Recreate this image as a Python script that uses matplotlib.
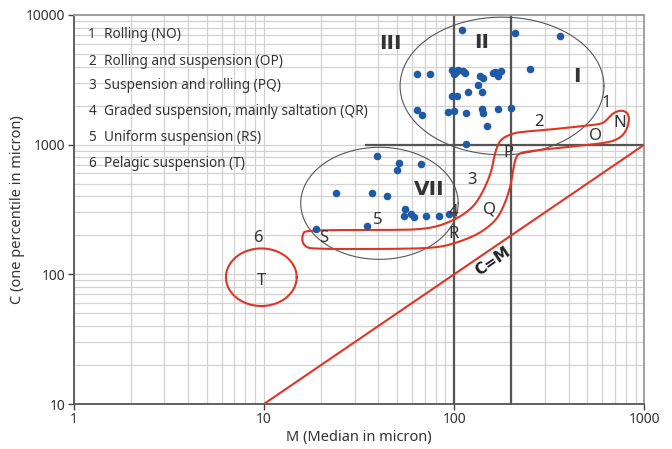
import numpy as np
import matplotlib
matplotlib.use("Agg")
import matplotlib.pyplot as plt
from matplotlib.ticker import FixedLocator, FuncFormatter, NullFormatter, LogLocator
from matplotlib.patches import Rectangle

# ---------------- data ----------------
upper_M = [110, 210, 360, 64, 75, 98, 102, 100, 105, 112, 114, 137, 142, 160, 164, 170,
           176, 250, 134, 141, 119, 98, 104, 64, 68, 93, 100, 115, 140, 142, 170, 198, 149, 116]
upper_C = [7600, 7200, 6900, 3500, 3500, 3770, 3650, 3500, 3770, 3700, 3550, 3390, 3250, 3550,
           3650, 3390, 3720, 3830, 2870, 2560, 2550, 2390, 2390, 1860, 1690, 1780, 1830, 1760,
           1880, 1760, 1870, 1930, 1400, 1010]

lower_M = [39.5, 51.5, 50, 67, 24, 37, 44.6, 55.4, 54.5, 59, 61.5, 71.4, 83.3, 94.4, 34.7, 18.9]
lower_C = [813, 722, 634, 713, 424, 424, 404, 319, 282, 292, 278, 280, 282, 293, 236, 223]

# outline of the NOPQRS band (M, C)
band_M = [16.45, 22.3, 46.0, 66.2, 84.3, 107.4, 125.7, 136.8, 148.9, 157.6,
          161.1, 167.5, 178.0, 204.8, 230.3, 331.1, 476.1, 597.1, 634.4, 687.1,
          760.6, 823.9, 834, 791.5, 716, 608.7, 406.8, 250.6, 217.5, 209.0,
          203.3, 196.8, 185.2, 167.5, 136.8, 107.4, 81.3, 46.0, 18.1, 16.45,
          15.8, 16.1]
band_C = [215.9, 219.8, 219.8, 221.8, 236, 276.8, 330.6, 394.8, 506.2, 637.8,
          761.7, 959.4, 1120, 1224, 1259, 1314, 1393, 1443, 1550, 1764,
          1851, 1746, 1504, 1224, 1086, 1025, 964.5, 893.8, 857.9, 761.7,
          601.6, 463.4, 353, 262.5, 207.3, 178.5, 159.6, 156.8, 156.8, 163.4,
          184, 207.3]

# ellipses: (center M, center C, half-width in decades, half-height in decades)
ell_upper = (178.6, 2835, 0.536, 0.531)
ell_lower = (40.5, 353, 0.414, 0.432)
ell_T = (9.69, 95, 0.186, 0.222)

cm_line_M = [10, 1000]
cm_line_C = [10, 1000]

x_ticks = [1, 10, 100, 1000]
y_ticks = [10, 100, 1000, 10000]

legend_items = ["Rolling (NO)", "Rolling and suspension (OP)", "Suspension and rolling (PQ)",
                "Graded suspension, mainly saltation (QR)", "Uniform suspension (RS)",
                "Pelagic suspension (T)"]

# labels inside plot: (text, M, C)
region_labels = [("III", 46.0, 6050), ("II", 139.7, 6115), ("I", 444, 3344), ("VII", 73.8, 451)]
seg_labels = [("1", 634, 2107), ("2", 280, 1503), ("N", 739, 1477), ("O", 551, 1167),
              ("P", 193, 858), ("3", 124, 534), ("Q", 153, 317), ("4", 99, 304),
              ("R", 99, 205), ("5", 39.8, 262), ("S", 20.5, 190), ("6", 9.35, 190),
              ("T", 9.65, 89)]

# ---------------- figure ----------------
plt.rcParams['font.family'] = ['Noto Sans', 'DejaVu Sans']
fig = plt.figure(figsize=(6.72, 4.49), dpi=100)
ax = fig.add_axes([0.1097, 0.1002, 0.8491, 0.8664])
ax.set_xscale('log')
ax.set_yscale('log')
ax.set_xlim(1, 1000)
ax.set_ylim(10, 10000)

ax.xaxis.set_major_locator(FixedLocator(x_ticks))
ax.yaxis.set_major_locator(FixedLocator(y_ticks))
ax.xaxis.set_minor_locator(LogLocator(base=10, subs=np.arange(2, 10)))
ax.yaxis.set_minor_locator(LogLocator(base=10, subs=np.arange(2, 10)))
fmt = FuncFormatter(lambda v, p: f"{v:g}")
ax.xaxis.set_major_formatter(fmt)
ax.yaxis.set_major_formatter(fmt)
ax.xaxis.set_minor_formatter(NullFormatter())
ax.yaxis.set_minor_formatter(NullFormatter())
ax.tick_params(which='major', length=4, width=1, color='#444', labelsize=10,
               labelcolor='#333', pad=2)
ax.tick_params(which='minor', length=0)

ax.grid(True, which='both', color='#d2d2d2', lw=0.9, zorder=0)
ax.set_axisbelow(True)
for s in ['left', 'bottom']:
    ax.spines[s].set_color('#555')
    ax.spines[s].set_linewidth(1.3)
for s in ['top', 'right']:
    ax.spines[s].set_color('#999')
    ax.spines[s].set_linewidth(1.3)

# white box behind legend text
ax.add_patch(Rectangle((0.0145, 0.586), 0.503, 0.388, transform=ax.transAxes,
                       facecolor='white', edgecolor='none', zorder=0.5))

# thick zone lines
ax.axvline(100, color='#555', lw=1.6, zorder=2)
ax.axvline(200, color='#555', lw=1.6, zorder=2)
ax.hlines(1000, 34, 1000, color='#555', lw=1.6, zorder=2)

def ellipse(ax, p, **kw):
    t = np.linspace(0, 2 * np.pi, 300)
    cx, cy = np.log10(p[0]), np.log10(p[1])
    ax.plot(10 ** (cx + p[2] * np.cos(t)), 10 ** (cy + p[3] * np.sin(t)), **kw)

ellipse(ax, ell_upper, color='#555', lw=0.8, zorder=3)
ellipse(ax, ell_lower, color='#555', lw=0.8, zorder=3)
ellipse(ax, ell_T, color='#e03525', lw=1.5, zorder=3)

# smoothed band outline (Chaikin in log space)
P = np.column_stack([np.log10(band_M), np.log10(band_C)])
for _ in range(3):
    Q = 0.75 * P + 0.25 * np.roll(P, -1, axis=0)
    R = 0.25 * P + 0.75 * np.roll(P, -1, axis=0)
    P = np.empty((2 * len(Q), 2))
    P[0::2] = Q
    P[1::2] = R
P = np.vstack([P, P[:1]])
ax.plot(10 ** P[:, 0], 10 ** P[:, 1], color='#e03525', lw=1.5, zorder=3)

ax.plot(cm_line_M, cm_line_C, color='#e03525', lw=1.5, zorder=3)

ax.scatter(upper_M, upper_C, s=30, color='#1f5aa8', zorder=4, linewidths=0)
ax.scatter(lower_M, lower_C, s=30, color='#1f5aa8', zorder=4, linewidths=0)

for txt, m, c in region_labels:
    ax.text(m, c, txt, ha='center', va='center', fontsize=14.5, fontweight='bold',
            family='DejaVu Sans', color='#333', zorder=5)
for txt, m, c in seg_labels:
    ax.text(m, c, txt, ha='center', va='center', fontsize=12, color='#333', zorder=5)

ax.text(160.7, 125, "C=M", ha='center', va='center', fontsize=11, fontweight='bold',
        family='DejaVu Sans', color='#222', rotation=34.3, rotation_mode='anchor', zorder=5)

leg_y = [0.9504, 0.8817, 0.8175, 0.7514, 0.6856, 0.6187]
for i, (txt, yy) in enumerate(zip(legend_items, leg_y)):
    ax.text(0.0255, yy, str(i + 1), transform=ax.transAxes, ha='left', va='center',
            fontsize=9.8, color='#333', zorder=5)
    ax.text(0.0531, yy, txt, transform=ax.transAxes, ha='left', va='center',
            fontsize=9.8, color='#333', zorder=5)

ax.set_xlabel("M (Median in micron)", fontsize=10.5, color='#333', labelpad=2)
ax.set_ylabel("C (one percentile in micron)", fontsize=10.5, color='#333', labelpad=1)

fig.savefig("out.png", dpi=100)
